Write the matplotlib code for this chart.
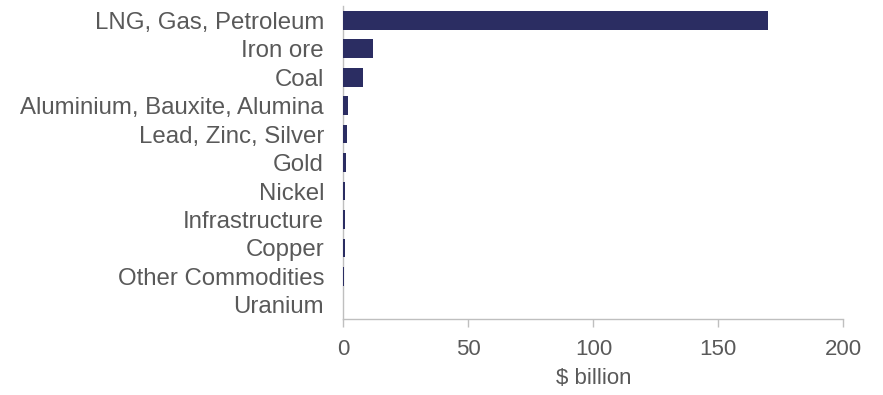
import matplotlib
matplotlib.use('Agg')
from matplotlib import pyplot as plt

categories = ['LNG, Gas, Petroleum', 'Iron ore', 'Coal', 'Aluminium, Bauxite, Alumina',
              'Lead, Zinc, Silver', 'Gold', 'Nickel', 'Infrastructure', 'Copper',
              'Other Commodities', 'Uranium']
values = [170.0, 12.0, 7.7, 1.9, 1.5, 0.9, 0.5, 0.5, 0.5, 0.2, 0.0]
xticks = [0, 50, 100, 150, 200]

plt.rcParams['font.family'] = ['Liberation Sans', 'DejaVu Sans']
textColor = '#595959'
axisColor = '#BFBFBF'

fig = plt.figure(figsize=(8.83, 3.95), dpi=100)
ax = fig.add_axes([0.389, 0.192, 0.566, 0.793])

pos = list(range(len(categories)))
ax.barh(pos, values, height=0.66, color='#2B2D62', zorder=3)
ax.set_ylim(len(categories) - 0.5, -0.5)
ax.set_xlim(0, 200)
ax.set_yticks(pos)
ax.set_yticklabels(categories, fontsize=17.3, color=textColor)
ax.set_xticks(xticks)
ax.set_xticklabels([str(t) for t in xticks], fontsize=16, color=textColor)
ax.tick_params(axis='y', length=0, pad=14)
ax.tick_params(axis='x', length=6, width=1, color=axisColor, pad=8)
ax.set_xlabel('$ billion', fontsize=16, color=textColor, labelpad=6)

for side in ['top', 'right']:
    ax.spines[side].set_visible(False)
for side in ['left', 'bottom']:
    ax.spines[side].set_color(axisColor)
    ax.spines[side].set_linewidth(1)
    ax.spines[side].set_zorder(1)

fig.savefig('out.png', dpi=100)
